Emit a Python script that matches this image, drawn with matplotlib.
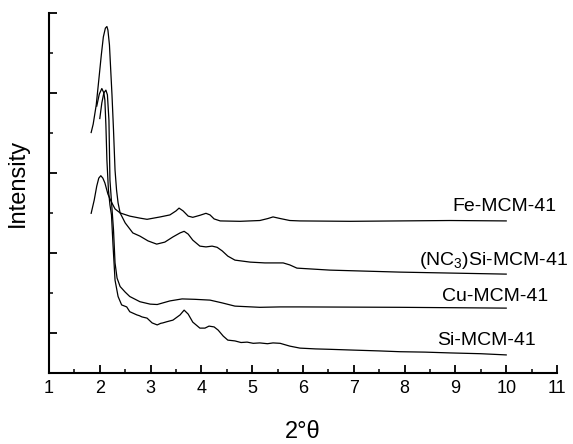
import numpy as np
import matplotlib
matplotlib.use("Agg")
import matplotlib.pyplot as plt

plt.rcParams['font.family'] = ['Liberation Sans', 'DejaVu Sans']
plt.rcParams['mathtext.fontset'] = 'custom'
plt.rcParams['mathtext.rm'] = 'Liberation Sans'

# 2theta / intensity (arbitrary units)
fe_x = [1.83, 1.89, 1.94, 1.98, 2.02, 2.06, 2.10, 2.16, 2.23, 2.30, 2.40, 2.59, 2.79, 2.93,
        3.19, 3.38, 3.50, 3.56, 3.64, 3.74, 3.83, 3.97, 4.09, 4.17, 4.25, 4.37, 4.76, 5.15,
        5.31, 5.41, 5.55, 5.74, 5.94, 6.93, 7.91, 8.89, 10.0]
fe_y = [4.00, 4.33, 4.68, 4.88, 4.94, 4.88, 4.76, 4.48, 4.28, 4.11, 4.01, 3.93, 3.88, 3.85,
        3.91, 3.96, 4.06, 4.13, 4.06, 3.93, 3.90, 3.95, 4.00, 3.96, 3.86, 3.81, 3.80, 3.82,
        3.87, 3.91, 3.87, 3.82, 3.81, 3.80, 3.81, 3.82, 3.81]

nc3_x = [1.83, 1.87, 1.93, 1.98, 2.03, 2.07, 2.11, 2.14, 2.16, 2.19, 2.21, 2.24, 2.27, 2.30,
         2.33, 2.36, 2.40, 2.50, 2.65, 2.79, 2.95, 3.12, 3.28, 3.44, 3.58, 3.66, 3.74, 3.83,
         3.97, 4.09, 4.21, 4.31, 4.41, 4.52, 4.66, 4.96, 5.25, 5.61, 5.74, 5.88, 6.53, 7.91, 10.0]
nc3_y = [6.02, 6.23, 6.71, 7.33, 7.96, 8.41, 8.63, 8.67, 8.58, 8.21, 7.71, 6.96, 6.08, 5.08,
         4.58, 4.26, 4.01, 3.76, 3.51, 3.43, 3.31, 3.23, 3.28, 3.41, 3.51, 3.55, 3.48, 3.33,
         3.18, 3.16, 3.18, 3.15, 3.06, 2.93, 2.83, 2.78, 2.76, 2.76, 2.71, 2.63, 2.58, 2.53, 2.48]

cu_x = [2.00, 2.04, 2.08, 2.12, 2.15, 2.18, 2.20, 2.27, 2.30, 2.34, 2.40, 2.50, 2.59, 2.79,
        2.99, 3.13, 3.38, 3.62, 3.87, 4.17, 4.41, 4.66, 5.15, 5.55, 5.94, 7.91, 10.0]
cu_y = [6.37, 6.76, 7.01, 7.08, 6.96, 6.33, 4.83, 3.58, 2.76, 2.38, 2.17, 2.03, 1.92, 1.79,
        1.73, 1.72, 1.81, 1.86, 1.85, 1.83, 1.76, 1.68, 1.65, 1.66, 1.66, 1.65, 1.63]

si_x = [1.94, 1.99, 2.04, 2.08, 2.10, 2.12, 2.14, 2.17, 2.20, 2.23, 2.26, 2.30, 2.36, 2.43,
        2.53, 2.59, 2.66, 2.73, 2.78, 2.83, 2.93, 3.03, 3.13, 3.20, 3.24, 3.32, 3.44, 3.58,
        3.66, 3.74, 3.83, 3.97, 4.07, 4.15, 4.25, 4.33, 4.43, 4.52, 4.66, 4.78, 4.90, 5.02,
        5.15, 5.30, 5.41, 5.55, 5.74, 5.94, 6.25, 6.53, 7.00, 7.50, 7.91, 8.40, 8.89, 9.50, 10.0]
si_y = [6.68, 6.98, 7.12, 7.01, 6.83, 6.21, 5.33, 4.58, 4.21, 3.96, 3.21, 2.33, 1.92, 1.71,
        1.66, 1.54, 1.50, 1.46, 1.44, 1.41, 1.38, 1.26, 1.21, 1.25, 1.26, 1.29, 1.33, 1.46,
        1.58, 1.48, 1.28, 1.13, 1.13, 1.18, 1.16, 1.08, 0.93, 0.83, 0.81, 0.77, 0.78, 0.75,
        0.76, 0.74, 0.76, 0.75, 0.68, 0.63, 0.61, 0.60, 0.58, 0.56, 0.54, 0.53, 0.51, 0.49, 0.46]

labels = ['Fe-MCM-41', '(NC$\\mathregular{_3}$)Si-MCM-41', 'Cu-MCM-41', 'Si-MCM-41']
label_x = [9.96, 9.75, 9.78, 9.62]
label_y = [4.16, 2.83, 1.93, 0.81]

fig = plt.figure(figsize=(5.73, 4.44), dpi=100)
ax = fig.add_axes([0.0855, 0.1592, 0.8866, 0.8108])

for xs, ys in [(fe_x, fe_y), (nc3_x, nc3_y), (cu_x, cu_y), (si_x, si_y)]:
    ax.plot(xs, ys, color='black', lw=0.9)

for txt, lx, ly in zip(labels, label_x, label_y):
    ax.text(lx, ly, txt, ha='center', va='center', fontsize=14, clip_on=False)

ax.set_xlim(1, 11)
ax.set_ylim(0, 9)
ax.set_xticks(np.arange(1, 12, 1))
ax.set_xticks(np.arange(1.5, 11, 1), minor=True)
ax.set_yticks([1, 3, 5, 7, 9])
ax.set_yticks([2, 4, 6, 8], minor=True)
ax.set_yticklabels([])
ax.tick_params(which='major', direction='in', length=6, width=1.3, labelsize=13, pad=5)
ax.tick_params(which='minor', direction='in', length=3, width=1.1)

for s in ['top', 'right']:
    ax.spines[s].set_visible(False)
for s in ['left', 'bottom']:
    ax.spines[s].set_linewidth(1.5)

ax.set_xlabel('2°θ', fontsize=17, labelpad=17)
ax.set_ylabel('Intensity', fontsize=17)
ax.yaxis.set_label_coords(-0.04, 0.53)

fig.savefig('out.png', dpi=100)
